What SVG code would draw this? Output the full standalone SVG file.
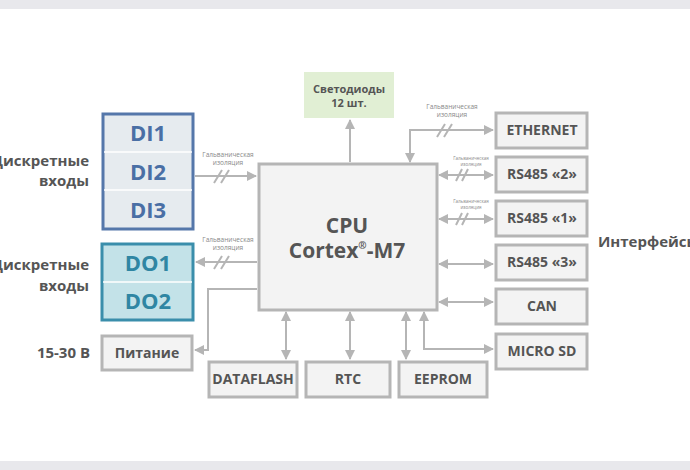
<svg xmlns="http://www.w3.org/2000/svg" width="690" height="470" viewBox="0 0 690 470">
<style>
text{font-family:"Open Sans","Liberation Sans",sans-serif;font-weight:bold;fill:#555;text-anchor:middle}
.box{fill:#f3f3f3;stroke:#b5b5b5;stroke-width:3}
.bt{font-size:14px}
.ln{fill:none;stroke:#b5b5b5;stroke-width:2}
.iso{font-size:6.5px;font-weight:normal;fill:#888}
.iss{font-size:4.5px;font-weight:normal;fill:#888}
.lab{font-size:15px;text-anchor:end}
</style>
<defs>
<marker id="a" viewBox="0 0 10 10" refX="9" refY="5" markerWidth="5" markerHeight="5" orient="auto-start-reverse"><path d="M0,0L10,5L0,10z" fill="#b5b5b5"/></marker>
</defs>
<rect width="690" height="470" fill="#fff"/>
<rect width="690" height="9" fill="#e8e8ec"/>
<rect y="461" width="690" height="9" fill="#e8e8ec"/>
<g id="di">
<rect x="103" y="114" width="90" height="115" fill="#e6ebef" stroke="#5577aa" stroke-width="3"/>
<line x1="104" y1="152" x2="192" y2="152" stroke="#fff" stroke-width="1.5"/>
<line x1="104" y1="190" x2="192" y2="190" stroke="#fff" stroke-width="1.5"/>
<text x="148" y="141" font-size="22" style="fill:#4a6fa5">DI1</text>
<text x="148" y="180" font-size="22" style="fill:#4a6fa5">DI2</text>
<text x="148" y="218" font-size="22" style="fill:#4a6fa5">DI3</text>
</g>
<g id="do">
<rect x="102" y="244" width="91" height="76" fill="#c3e2e8" stroke="#3a8eab" stroke-width="3"/>
<line x1="103" y1="282" x2="192" y2="282" stroke="#fff" stroke-width="1.5"/>
<text x="148" y="271" font-size="22" style="fill:#2f86a3">DO1</text>
<text x="148" y="309" font-size="22" style="fill:#2f86a3">DO2</text>
</g>
<text class="lab" x="89" y="166">Дискретные</text>
<text class="lab" x="89" y="186">входы</text>
<text class="lab" x="89" y="270">Дискретные</text>
<text class="lab" x="89" y="291">входы</text>
<text class="lab" x="90" y="358">15-30 В</text>
<text x="598" y="247" font-size="15" style="text-anchor:start">Интерфейсы</text>
<g id="power"><rect class="box" x="102" y="336" width="90" height="34"/><text class="bt" x="147" y="358">Питание</text></g>
<g id="cpu"><rect class="box" x="259" y="164" width="178" height="146"/>
<text x="347" y="233" font-size="21">CPU</text>
<text x="347" y="258" font-size="21">Cortex<tspan font-size="10" dy="-9">®</tspan><tspan dy="9">-M7</tspan></text></g>
<g id="led"><rect x="304" y="72" width="90" height="46" fill="#e1efd4"/><text x="349" y="93" font-size="11">Светодиоды</text><text x="349" y="107" font-size="11">12 шт.</text></g>
<g id="eth"><rect class="box" x="496" y="113" width="91" height="35"/><text class="bt" x="542" y="135">ETHERNET</text></g>
<g id="rs2"><rect class="box" x="496" y="157" width="91" height="35"/><text class="bt" x="542" y="179">RS485 «2»</text></g>
<g id="rs1"><rect class="box" x="496" y="201" width="91" height="35"/><text class="bt" x="542" y="223">RS485 «1»</text></g>
<g id="rs3"><rect class="box" x="496" y="245" width="91" height="35"/><text class="bt" x="542" y="267">RS485 «3»</text></g>
<g id="can"><rect class="box" x="496" y="289" width="91" height="35"/><text class="bt" x="542" y="311">CAN</text></g>
<g id="sd"><rect class="box" x="496" y="334" width="91" height="35"/><text class="bt" x="542" y="356">MICRO SD</text></g>
<g id="df"><rect class="box" x="209" y="362" width="88" height="35"/><text class="bt" x="253" y="384">DATAFLASH</text></g>
<g id="rtc"><rect class="box" x="306" y="362" width="84" height="35"/><text class="bt" x="348" y="384">RTC</text></g>
<g id="ee"><rect class="box" x="399" y="362" width="88" height="35"/><text class="bt" x="443" y="384">EEPROM</text></g>
<g id="connectors">
<path class="ln" d="M195,176H256" marker-end="url(#a)"/>
<path class="ln" d="M257,262H196" marker-end="url(#a)"/>
<path class="ln" d="M257,289H208V350H195" marker-end="url(#a)"/>
<path class="ln" d="M350,162V120" marker-end="url(#a)"/>
<path class="ln" d="M410,162V130H493" marker-start="url(#a)" marker-end="url(#a)"/>
<path class="ln" d="M439,175H493" marker-start="url(#a)" marker-end="url(#a)"/>
<path class="ln" d="M439,219H493" marker-start="url(#a)" marker-end="url(#a)"/>
<path class="ln" d="M439,264H493" marker-start="url(#a)" marker-end="url(#a)"/>
<path class="ln" d="M439,302H493" marker-start="url(#a)" marker-end="url(#a)"/>
<path class="ln" d="M424,312V349H493" marker-start="url(#a)" marker-end="url(#a)"/>
<path class="ln" d="M286,312V359" marker-start="url(#a)" marker-end="url(#a)"/>
<path class="ln" d="M350,312V359" marker-start="url(#a)" marker-end="url(#a)"/>
<path class="ln" d="M406,312V359" marker-start="url(#a)" marker-end="url(#a)"/>
<path class="ln" stroke-width="1.2" d="M214,183L222,170M221,183L229,170"/>
<path class="ln" stroke-width="1.2" d="M214,269L222,256M221,269L229,256"/>
<path class="ln" stroke-width="1.2" d="M437,137L445,124M444,137L452,124"/>
<path class="ln" stroke-width="1.2" d="M456,181L462,169M462,181L468,169"/>
<path class="ln" stroke-width="1.2" d="M456,225L462,213M462,225L468,213"/>
<text class="iso" x="228" y="157">Гальваническая</text><text class="iso" x="228" y="165">изоляция</text>
<text class="iso" x="228" y="242">Гальваническая</text><text class="iso" x="228" y="250">изоляция</text>
<text class="iso" x="452" y="109">Гальваническая</text><text class="iso" x="452" y="117">изоляция</text>
<text class="iss" x="471" y="160">Гальваническая</text><text class="iss" x="471" y="166">изоляция</text>
<text class="iss" x="471" y="203">Гальваническая</text><text class="iss" x="471" y="209">изоляция</text>
</g>
</svg>
